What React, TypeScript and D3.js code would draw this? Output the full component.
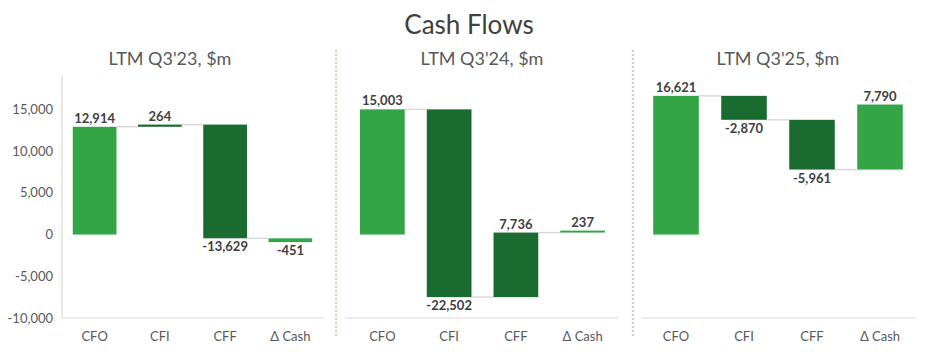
import { useEffect, useRef } from "react";
import * as d3 from "d3";

const categories = ["CFO", "CFI", "CFF", "Δ Cash"];
const periods = ["LTM Q3'23, $m", "LTM Q3'24, $m", "LTM Q3'25, $m"];
const flows23 = [12914, 264, -13629, -451];
const flows24 = [15003, -22502, 7736, 237];
const flows25 = [16621, -2870, -5961, 7790];
const yTicks = [-10000, -5000, 0, 5000, 10000, 15000];

const lightGreen = "#33a546";
const darkGreen = "#1a6b30";
const barColors = [lightGreen, darkGreen, darkGreen, lightGreen];

// excel style: plain hyphen for negatives
const fmt = d3.formatLocale({
  decimal: ".",
  thousands: ",",
  grouping: [3],
  currency: ["$", ""],
  minus: "-",
}).format(",");

const App = () => {
  const svgRef = useRef<SVGSVGElement>(null);

  const width = 939;
  const height = 354;

  useEffect(() => {
    const svg = d3.select(svgRef.current);
    svg.selectAll("*").remove(); // clear

    const font = "Lato, 'Open Sans', sans-serif";

    const y = d3.scaleLinear().domain([-10000, 19000]).range([318, 76]);

    // panel positions (band range for each small chart)
    const panels = [
      { title: periods[0], values: flows23, range: [62, 323], axis: [62, 323], titleX: 170 },
      { title: periods[1], values: flows24, range: [349, 616], axis: [345, 618], titleX: 482 },
      { title: periods[2], values: flows25, range: [642, 914], axis: [642, 915], titleX: 778 },
    ];

    svg
      .append("text")
      .attr("x", 469)
      .attr("y", 34)
      .attr("text-anchor", "middle")
      .attr("font-family", font)
      .attr("font-size", 26)
      .attr("fill", "#404040")
      .text("Cash Flows");

    // dotted separators
    [336, 633].forEach((sx) => {
      svg
        .append("line")
        .attr("x1", sx)
        .attr("x2", sx)
        .attr("y1", 50)
        .attr("y2", 338)
        .attr("stroke", "#a9d08e")
        .attr("stroke-width", 1.5)
        .attr("stroke-dasharray", "2,2");
    });

    // y axis (first panel only)
    svg
      .append("line")
      .attr("x1", 62)
      .attr("x2", 62)
      .attr("y1", 76)
      .attr("y2", 318)
      .attr("stroke", "#d9d9d9")
      .attr("stroke-width", 1.2);

    svg
      .selectAll(".ytick")
      .data(yTicks)
      .enter()
      .append("text")
      .attr("class", "ytick")
      .attr("x", 53)
      .attr("y", (d) => y(d) + 4.5)
      .attr("text-anchor", "end")
      .attr("font-family", font)
      .attr("font-size", 13)
      .attr("fill", "#595959")
      .text((d) => fmt(d));

    panels.forEach((p) => {
      const x = d3
        .scaleBand()
        .domain(categories)
        .range(p.range as [number, number])
        .paddingInner(0.33)
        .paddingOuter(0.165);

      const g = svg.append("g");

      // waterfall steps
      let run = 0;
      const steps = p.values.map((v, i) => {
        const start = run;
        run += v;
        return { cat: categories[i], value: v, start, end: run, color: barColors[i] };
      });

      g.append("text")
        .attr("x", p.titleX)
        .attr("y", 65)
        .attr("text-anchor", "middle")
        .attr("font-family", font)
        .attr("font-size", 18)
        .attr("fill", "#595959")
        .text(p.title);

      // x axis line
      g.append("line")
        .attr("x1", p.axis[0])
        .attr("x2", p.axis[1])
        .attr("y1", 318)
        .attr("y2", 318)
        .attr("stroke", "#d9d9d9")
        .attr("stroke-width", 1.2);

      // connectors
      g.selectAll(".conn")
        .data(steps.slice(0, -1))
        .enter()
        .append("line")
        .attr("class", "conn")
        .attr("x1", (d) => x(d.cat)! + x.bandwidth())
        .attr("x2", (d, i) => x(categories[i + 1])!)
        .attr("y1", (d) => y(d.end))
        .attr("y2", (d) => y(d.end))
        .attr("stroke", "#d9d9d9")
        .attr("stroke-width", 1.5);

      g.selectAll("rect")
        .data(steps)
        .enter()
        .append("rect")
        .attr("x", (d) => x(d.cat)!)
        .attr("width", x.bandwidth())
        .attr("y", (d) => y(Math.max(d.start, d.end)))
        .attr("height", (d) => Math.max(1.5, Math.abs(y(d.start) - y(d.end))))
        .attr("fill", (d) => d.color);

      g.selectAll(".lbl")
        .data(steps)
        .enter()
        .append("text")
        .attr("class", "lbl")
        .attr("x", (d) => x(d.cat)! + x.bandwidth() / 2)
        .attr("y", (d) =>
          d.value >= 0
            ? y(Math.max(d.start, d.end)) - 4
            : y(Math.min(d.start, d.end)) + 13
        )
        .attr("text-anchor", "middle")
        .attr("font-family", font)
        .attr("font-size", 13)
        .attr("font-weight", "bold")
        .attr("fill", "#404040")
        .text((d) => fmt(d.value));

      g.selectAll(".cat")
        .data(categories)
        .enter()
        .append("text")
        .attr("class", "cat")
        .attr("x", (d) => x(d)! + x.bandwidth() / 2)
        .attr("y", 341)
        .attr("text-anchor", "middle")
        .attr("font-family", font)
        .attr("font-size", 13)
        .attr("fill", "#595959")
        .text((d) => d);
    });
  }, []);

  return (
    <svg
      ref={svgRef}
      width={width}
      height={height}
      style={{ position: "absolute", left: 0, top: 0, background: "#fff" }}
    ></svg>
  );
};

export default App;
